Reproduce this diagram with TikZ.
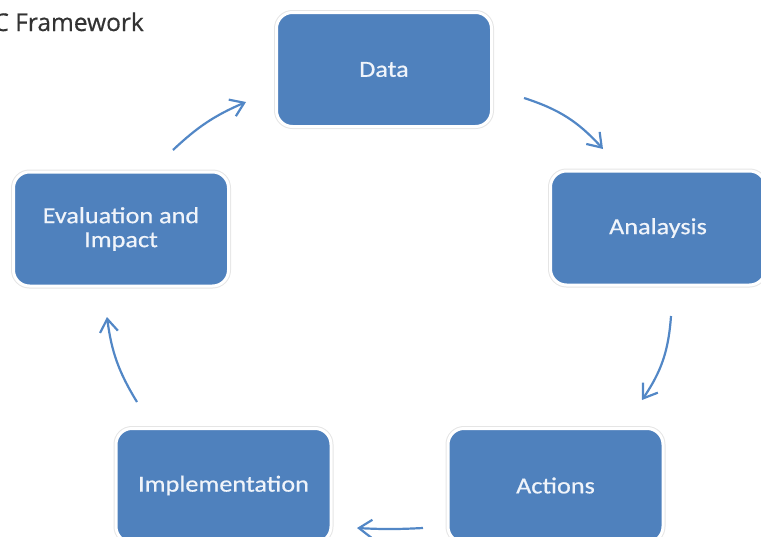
\documentclass[tikz,border=0pt]{standalone}
\usepackage{fontspec}
\usetikzlibrary{arrows.meta}
\newfontfamily\boxfont[FakeStretch=1.14,FakeBold=0.6]{Carlito}
\newfontfamily\titlefont[FakeBold=0.5]{Open Sans}
\definecolor{boxblue}{HTML}{4F81BD}
\definecolor{arrblue}{HTML}{5287C6}
\definecolor{txtwhite}{HTML}{F0F4FA}
\definecolor{titlegray}{HTML}{333333}
\tikzset{
  stagebox/.style={rounded corners=16pt, fill=boxblue, draw=white, line width=3pt,
    preaction={draw=black!10, line width=5pt},
    minimum width=215pt, minimum height=114pt, inner sep=0pt,
    text=txtwhite, align=center,
    font=\boxfont\fontsize{23}{24}\selectfont},
  cyclearrow/.style={draw=arrblue, line width=2.2pt,
    -{Straight Barb[length=13pt,width=18pt,line width=2.2pt]}}
}
\begin{document}
\begin{tikzpicture}[x=1pt,y=-1pt]
\useasboundingbox (0,0) rectangle (761,536);
\node[anchor=base east, text=titlegray, inner sep=0pt,
  font=\titlefont\fontsize{24.5}{28}\selectfont] (title) at (144,31) {C Framework};
\node[stagebox] (data) at (384,69.5) {Data};
\node[stagebox] (anal) at (658,228) {Analaysis};
\node[stagebox] (act) at (555.5,485.5) {Actions};
\node[stagebox] (impl) at (223.5,485.5) {Implementation};
\node[stagebox] (eval) at (121,229) {Evaluation and\\Impact};
\coordinate (a1s) at (524,98);
\coordinate (a1e) at (603,149);
\coordinate (a2s) at (671,316);
\coordinate (a2e) at (642,400);
\coordinate (a3s) at (423,528);
\coordinate (a3e) at (357,528);
\coordinate (a4s) at (137,402);
\coordinate (a4e) at (107,317);
\coordinate (a5s) at (173,150);
\coordinate (a5e) at (246,102);
\draw[cyclearrow] (a1s) to[bend left=15] (a1e);
\draw[cyclearrow] (a2s) to[bend left=15] (a2e);
\draw[cyclearrow] (a3s) to[bend left=3] (a3e);
\draw[cyclearrow] (a4s) to[bend left=12] (a4e);
\draw[cyclearrow] (a5s) to[bend left=10] (a5e);
\end{tikzpicture}
\end{document}
